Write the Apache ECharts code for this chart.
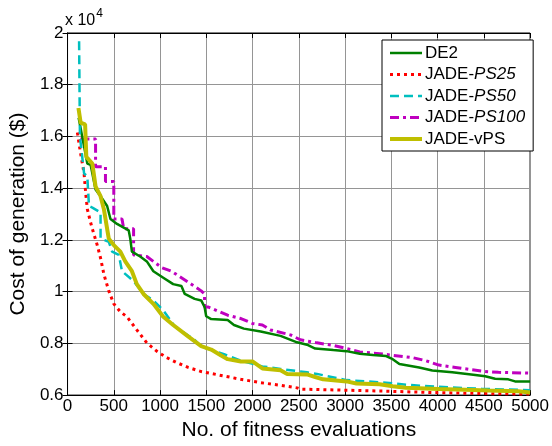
<!DOCTYPE html>
<html>
<head>
<meta charset="utf-8">
<script src="https://cdn.jsdelivr.net/npm/echarts@6/dist/echarts.min.js"></script>
<style>html,body{margin:0;padding:0;background:#fff;}#c{width:552px;height:446px;}</style>
</head>
<body>
<div id="c"></div>
<script>
// Values in units of 1e4 $; x = number of fitness evaluations
var de2Points = [[120,1.672],[214,1.495],[250,1.49],[303,1.395],[357,1.369],[428,1.331],[464,1.281],[535,1.262],[661,1.237],[678,1.205],[696,1.155],[785,1.136],[857,1.117],[928,1.079],[1035,1.054],[1142,1.029],[1231,1.022],[1267,0.991],[1374,0.972],[1445,0.966],[1481,0.941],[1499,0.905],[1553,0.894],[1731,0.890],[1799,0.871],[1906,0.857],[2088,0.846],[2302,0.829],[2481,0.804],[2588,0.795],[2677,0.780],[2873,0.774],[3016,0.770],[3159,0.760],[3301,0.755],[3444,0.751],[3515,0.739],[3587,0.720],[3801,0.707],[3943,0.695],[4158,0.688],[4408,0.678],[4515,0.673],[4622,0.663],[4765,0.661],[4837,0.653],[5000,0.653]];
var ps25Points = [[107,1.615],[125,1.571],[142,1.533],[179,1.457],[196,1.382],[214,1.319],[249,1.268],[268,1.243],[321,1.180],[357,1.130],[393,1.067],[446,1.003],[500,0.953],[571,0.922],[642,0.903],[749,0.852],[857,0.802],[964,0.770],[1071,0.745],[1178,0.726],[1303,0.707],[1445,0.691],[1660,0.676],[1874,0.661],[2088,0.648],[2302,0.638],[2481,0.628],[2516,0.623],[3016,0.619],[3444,0.615],[3943,0.610],[4479,0.606],[5000,0.604]];
var ps50Points = [[125,1.968],[134,1.60],[179,1.457],[214,1.445],[232,1.331],[268,1.325],[286,1.319],[357,1.306],[357,1.205],[446,1.193],[482,1.155],[554,1.142],[589,1.079],[714,1.041],[821,0.991],[928,0.966],[1035,0.928],[1160,0.865],[1374,0.814],[1445,0.787],[1692,0.758],[1874,0.733],[2106,0.711],[2302,0.701],[2588,0.688],[2695,0.682],[3016,0.658],[3444,0.648],[3659,0.640],[4015,0.632],[4479,0.624],[5000,0.619]];
var ps100Points = [[139,1.590],[303,1.590],[303,1.483],[410,1.483],[410,1.426],[500,1.426],[500,1.281],[589,1.281],[607,1.243],[714,1.243],[714,1.142],[857,1.136],[928,1.117],[1017,1.093],[1124,1.079],[1231,1.054],[1338,1.029],[1445,1.003],[1481,0.991],[1481,0.941],[1517,0.941],[1731,0.909],[1874,0.896],[1999,0.877],[2106,0.871],[2195,0.852],[2409,0.833],[2516,0.814],[2695,0.802],[2873,0.792],[3087,0.774],[3159,0.767],[3373,0.760],[3515,0.754],[3729,0.745],[3873,0.733],[4015,0.716],[4194,0.707],[4372,0.698],[4515,0.691],[4658,0.688],[5000,0.685]];
var vpsPoints = [[118,1.710],[142,1.653],[190,1.647],[203,1.521],[268,1.495],[303,1.407],[357,1.369],[393,1.319],[428,1.243],[446,1.205],[500,1.180],[571,1.155],[624,1.117],[696,1.079],[749,1.029],[821,0.991],[928,0.953],[1035,0.903],[1142,0.871],[1303,0.827],[1445,0.789],[1553,0.776],[1660,0.753],[1731,0.739],[1874,0.730],[1999,0.730],[2106,0.703],[2302,0.696],[2374,0.682],[2588,0.680],[2677,0.670],[2762,0.661],[3016,0.653],[3123,0.645],[3373,0.642],[3515,0.634],[3659,0.628],[4015,0.624],[4301,0.621],[4550,0.618],[4872,0.615],[5000,0.610]];
var seriesNames = ['DE2','JADE-PS25','JADE-PS50','JADE-PS100','JADE-vPS'];
var xTicks = [0,500,1000,1500,2000,2500,3000,3500,4000,4500,5000];
var yTicks = [0.6,0.8,1,1.2,1.4,1.6,1.8,2];

var FONT = '"Liberation Sans", Arial, sans-serif';
var chart = echarts.init(document.getElementById('c'), null, {renderer:'canvas'});
var styles = {
  'DE2':        {color:'#008000', width:2.5, type:'solid', z:3},
  'JADE-PS25':  {color:'#FF0000', width:3, type:[3,4], z:2},
  'JADE-PS50':  {color:'#00BFBF', width:2.5, type:[9,5], z:3},
  'JADE-PS100': {color:'#BF00BF', width:3, type:[9,4,3,4], z:2},
  'JADE-vPS':   {color:'#BFBF00', width:4, type:'solid', z:4}
};
function mk(name, data){
  var s = styles[name];
  return {name:name, type:'line', data:data, symbol:'none', showSymbol:false, z:s.z,
    legendIcon:'rect',
    lineStyle:{color:s.color, width:s.width, type:s.type, cap:'butt'}, itemStyle:{color:s.color}, animation:false};
}
var gridStyle = {show:true, lineStyle:{color:'#959595', width:1, type:'solid'}};
var option = {
  animation:false,
  backgroundColor:'#fff',
  grid:{left:65, right:20, top:33, bottom:43, show:true, borderColor:'#000', borderWidth:1, backgroundColor:'transparent'},
  legend:{
    orient:'vertical', left:382, top:40, width:145,
    backgroundColor:'#fff', borderColor:'#000', borderWidth:1,
    padding:[3,8,2,6], itemGap:1.5, itemWidth:32, itemHeight:14,
    data:seriesNames.map(function(n){ var s=styles[n]; return {name:n, lineStyle:{color:s.color, width:s.width, type:s.type}}; }),
    itemStyle:{opacity:0},
    formatter:function(n){ return n.indexOf('PS')>=0 && n!=='JADE-vPS' ? 'JADE-{i|'+n.slice(5)+'}' : n; },
    textStyle:{fontFamily:FONT, fontSize:17, lineHeight:20, color:'#000', padding:[0,0,0,-2], rich:{i:{fontFamily:FONT, fontSize:17, lineHeight:20, fontStyle:'italic', color:'#000'}}}
  },
  xAxis:[{
    type:'value', min:0, max:5000, interval:500,
    axisLine:{show:true, lineStyle:{color:'#000'}},
    axisTick:{show:true, inside:true, length:5, lineStyle:{color:'#000'}},
    axisLabel:{fontFamily:FONT, fontSize:17, color:'#000', margin:3,
      formatter:function(v){return xTicks.indexOf(v)>=0? String(v):'';}},
    splitLine:gridStyle,
    name:'No. of fitness evaluations', nameLocation:'middle', nameGap:23,
    nameTextStyle:{fontFamily:FONT, fontSize:21, color:'#000'}
  },{
    type:'value', min:0, max:5000, interval:500, position:'top',
    axisLine:{show:true, lineStyle:{color:'#000'}},
    axisTick:{show:true, inside:true, length:5, lineStyle:{color:'#000'}},
    axisLabel:{show:false}, splitLine:{show:false}
  }],
  yAxis:[{
    type:'value', min:0.6, max:2, interval:0.2,
    axisLine:{show:true, lineStyle:{color:'#000'}},
    axisTick:{show:true, inside:true, length:5, lineStyle:{color:'#000'}},
    axisLabel:{fontFamily:FONT, fontSize:17, color:'#000', margin:4,
      formatter:function(v){return String(+v.toFixed(1));}},
    splitLine:gridStyle,
    name:'Cost of generation ($)', nameLocation:'middle', nameGap:30,
    nameTextStyle:{fontFamily:FONT, fontSize:21, color:'#000'}
  },{
    type:'value', min:0.6, max:2, interval:0.2, position:'right',
    axisLine:{show:true, lineStyle:{color:'#000'}},
    axisTick:{show:true, inside:true, length:5, lineStyle:{color:'#000'}},
    axisLabel:{show:false}, splitLine:{show:false}
  }],
  graphic:[{
    type:'text', left:65, top:8,
    style:{text:'{a|x 10}{b|4}', rich:{a:{fontFamily:FONT, fontSize:16, fill:'#000', padding:[7,0,0,0]}, b:{fontFamily:FONT, fontSize:12, fill:'#000', padding:[0,0,7,1]}}}
  }],
  series:[
    mk('JADE-PS100', ps100Points),
    mk('DE2', de2Points),
    mk('JADE-PS25', ps25Points),
    mk('JADE-PS50', ps50Points),
    mk('JADE-vPS', vpsPoints)
  ]
};
chart.setOption(option);
</script>
</body>
</html>
